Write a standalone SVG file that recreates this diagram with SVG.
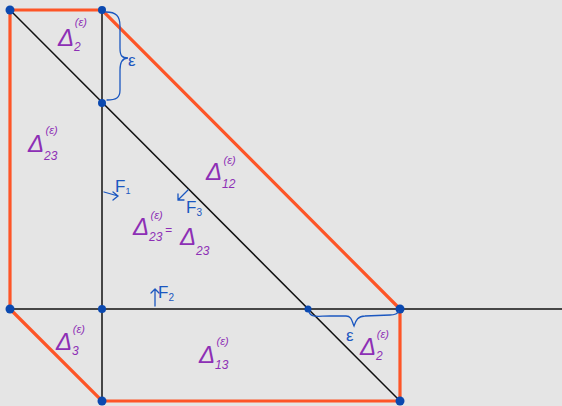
<svg xmlns="http://www.w3.org/2000/svg" width="562" height="406" viewBox="0 0 562 406">
<style>
.or{stroke:#fd5527;stroke-width:3.2;fill:none;stroke-linecap:round}
.bk{stroke:#111;stroke-width:1.5;fill:none}
.dot{fill:#0b49b0}
.lbl{font-family:"Liberation Sans",Arial,sans-serif;fill:#8d2fb5;font-style:italic}
.big{font-size:24px}
.sup{font-size:11px}
.sub{font-size:12px}
.bl{font-family:"Liberation Sans",Arial,sans-serif;fill:#1b57c0;font-size:17px}
.br{stroke:#1b57c0;stroke-width:1.3;fill:none;stroke-linecap:round}
</style>
<rect width="562" height="406" fill="#e5e5e5"/>
<g id="connectors">
<line class="bk" x1="10" y1="309" x2="562" y2="309"/>
<line class="bk" x1="102" y1="10" x2="102" y2="401"/>
<line class="bk" x1="10" y1="10" x2="400" y2="401"/>
<polyline class="or" points="10,309 10,10 102,10 400,309 400,401 102,401 10,309"/>
</g>
<g id="points">
<circle class="dot" cx="10" cy="10" r="4.5"/>
<circle class="dot" cx="102" cy="10" r="4"/>
<circle class="dot" cx="102" cy="103" r="4"/>
<circle class="dot" cx="10" cy="309" r="4.5"/>
<circle class="dot" cx="102" cy="309" r="4"/>
<circle class="dot" cx="308" cy="309" r="3.5"/>
<circle class="dot" cx="400" cy="309" r="4.5"/>
<circle class="dot" cx="102" cy="401" r="4.5"/>
<circle class="dot" cx="400" cy="401" r="4.5"/>
</g>
<g id="brace-top">
<path class="br" d="M106,12 C116,12 120,16 120,26 L120,48 C120,56 122,58 128,58 C122,58 120,62 120,70 L120,90 C120,98 116,100 107,100"/>
<text class="bl" x="128" y="66" font-size="19">ε</text>
</g>
<g id="brace-bottom">
<path class="br" d="M309,312 C311,318 318,316 330,316 L346,316 C352,316 352,322 354,326 C356,320 358,316 365,316 L390,315 C396,315 398,313 399,311"/>
<text class="bl" x="346" y="341" font-size="19">ε</text>
</g>
<g id="labels">
<text class="lbl" x="58" y="46"><tspan class="big">Δ</tspan><tspan class="sub" dy="5">2</tspan><tspan class="sup" dx="-6" dy="-25">(ε)</tspan></text>
<text class="lbl" x="28" y="152"><tspan class="big">Δ</tspan><tspan class="sub" dy="8">23</tspan><tspan class="sup" dx="-12" dy="-26">(ε)</tspan></text>
<text class="lbl" x="206" y="180"><tspan class="big">Δ</tspan><tspan class="sub" dy="8">12</tspan><tspan class="sup" dx="-12" dy="-24">(ε)</tspan></text>
<text class="lbl" x="133" y="235"><tspan class="big">Δ</tspan><tspan class="sub" dy="6">23</tspan><tspan class="sup" dx="-12" dy="-22">(ε)</tspan><tspan class="sub" x="165" y="234">=</tspan><tspan class="big" x="180" y="245">Δ</tspan><tspan class="sub" dy="10">23</tspan></text>
<text class="lbl" x="56" y="350"><tspan class="big">Δ</tspan><tspan class="sub" dy="5">3</tspan><tspan class="sup" dx="-6" dy="-22">(ε)</tspan></text>
<text class="lbl" x="199" y="363"><tspan class="big">Δ</tspan><tspan class="sub" dy="6">13</tspan><tspan class="sup" dx="-12" dy="-24">(ε)</tspan></text>
<text class="lbl" x="360" y="355"><tspan class="big">Δ</tspan><tspan class="sub" dy="5">2</tspan><tspan class="sup" dx="-6" dy="-22">(ε)</tspan></text>
</g>
<g id="forces">
<path class="br" d="M104,192 L118,196 M113,192 L118,196 L113,200"/>
<text class="bl" x="115" y="192">F<tspan font-size="9" dy="2">1</tspan></text>
<path class="br" d="M188,190 L178,200 M178,194 L178,200 L184,200"/>
<text class="bl" x="186" y="213">F<tspan font-size="10" dy="3">3</tspan></text>
<path class="br" d="M155,306 L155,289 M151,293 L155,289 L159,293"/>
<text class="bl" x="158" y="298">F<tspan font-size="10" dy="3">2</tspan></text>
</g>
</svg>
